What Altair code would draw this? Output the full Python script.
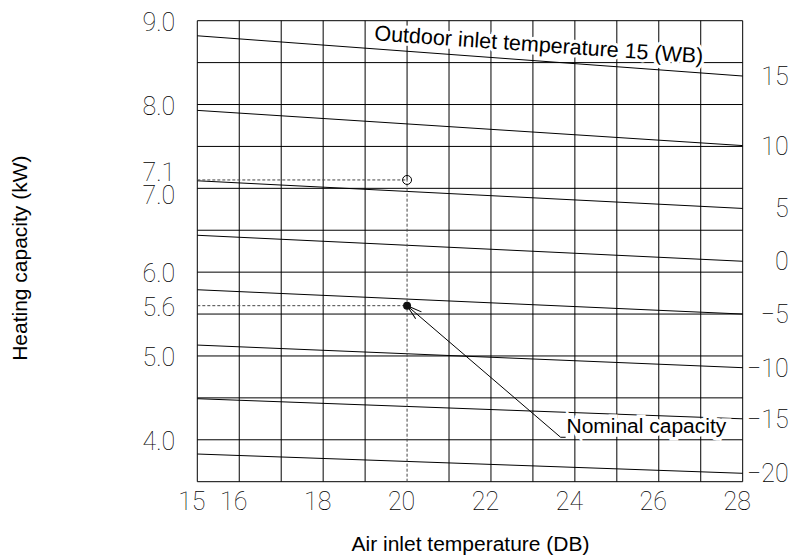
import altair as alt
import pandas as pd

# ---- data ----
outdoor_temps = [15, 10, 5, 0, -5, -10, -15, -20]          # outdoor inlet temp (WB)
cap_at_15 = [8.82, 7.93, 7.09, 6.44, 5.79, 5.13, 4.49, 3.83]  # kW at air inlet 15 (DB)
cap_at_28 = [8.34, 7.51, 6.76, 6.13, 5.50, 4.86, 4.25, 3.60]  # kW at air inlet 28 (DB)
x_ends = [15, 28]
x_tick_labels = [15, 16, 18, 20, 22, 24, 26, 28]
grid_x = [15, 16, 17, 18, 19, 21, 22, 23, 24, 25, 26, 27, 28]
grid_y = [3.5, 4.0, 4.5, 5.0, 5.5, 6.0, 6.5, 7.0, 7.5, 8.0, 8.5, 9.0]
left_labels = [9.0, 8.0, 6.0, 5.6, 5.0, 4.0]
rated_x = 20
rated_cap = 7.1
nominal_cap = 5.6
label_70 = 7.0
callout_x = [20, 23.66, 23.78]
callout_y = [5.6, 4.03, 4.03]
outdoor_title_pos = (23.14, 8.70)
nominal_text_pos = (23.8, 4.15)
y_min, y_max = 3.5, 9.0

NUM_FONT = "Roboto"
NUM_WEIGHT = 100
NUM_COLOR = "#000"
TXT_FONT = "Liberation Sans"

xs = alt.Scale(domain=[x_ends[0], x_ends[1]], nice=False, zero=False)
ys = alt.Scale(domain=[y_min, y_max], nice=False, zero=False)

x_axis = alt.Axis(
    values=x_tick_labels, title="Air inlet temperature (DB)", grid=False, ticks=False,
    domain=False, labelFont=NUM_FONT, labelFontWeight=NUM_WEIGHT, labelFontSize=25,
    labelColor=NUM_COLOR, labelPadding=8, labelOffset=-6, labelFlush=False,
    labelOverlap=False, titleFont=TXT_FONT, titleFontSize=21, titleFontWeight="normal",
    titleColor="black", titleY=63, titleBaseline="middle")
y_axis = alt.Axis(
    labels=False, ticks=False, domain=False, grid=False,
    title="Heating capacity (kW)", titleFont=TXT_FONT, titleFontSize=21,
    titleFontWeight="normal", titleColor="black", titleX=-177, titleY=237,
    titleBaseline="middle", titleAngle=270)

def X(f="x"):
    return alt.X(f"{f}:Q", scale=xs, axis=x_axis)

def Y(f="y"):
    return alt.Y(f"{f}:Q", scale=ys, axis=y_axis)

# grid
vgrid = alt.Chart(pd.DataFrame({"x": grid_x})).mark_rule(color="black", strokeWidth=1).encode(x=X())
hgrid = alt.Chart(pd.DataFrame({"y": grid_y})).mark_rule(color="black", strokeWidth=1).encode(y=Y())
grid20 = alt.Chart(pd.DataFrame({"x": [rated_x], "y": [rated_cap], "y2": [y_max]})).mark_rule(
    color="black", strokeWidth=1).encode(x=X(), y=Y(), y2="y2:Q")

# capacity lines
rows = []
for t, a, b in zip(outdoor_temps, cap_at_15, cap_at_28):
    rows.append({"t": t, "x": x_ends[0], "y": a})
    rows.append({"t": t, "x": x_ends[1], "y": b})
lines = alt.Chart(pd.DataFrame(rows)).mark_line(color="black", strokeWidth=1).encode(
    x=X(), y=Y(), detail="t:N")

# dashed guides
dash_h = alt.Chart(pd.DataFrame({"x": [x_ends[0], x_ends[0]], "x2": [rated_x, rated_x],
                                 "y": [rated_cap, nominal_cap]})).mark_rule(
    color="#444", strokeWidth=1, strokeDash=[3, 2]).encode(x=X(), x2="x2:Q", y=Y())
dash_v = alt.Chart(pd.DataFrame({"x": [rated_x], "y": [y_min], "y2": [rated_cap]})).mark_rule(
    color="#444", strokeWidth=1, strokeDash=[3, 2]).encode(x=X(), y=Y(), y2="y2:Q")

# left value labels
lab_style = dict(font=NUM_FONT, fontWeight=NUM_WEIGHT, fontSize=25, color=NUM_COLOR, baseline="middle")
left_df = pd.DataFrame({"x": [x_ends[0]] * len(left_labels), "y": left_labels,
                        "t": [f"{v:.1f}" for v in left_labels]})
left_txt = alt.Chart(left_df).mark_text(align="right", dx=-22, dy=2, **lab_style).encode(
    x=X(), y=Y(), text="t:N")
lab71 = alt.Chart(pd.DataFrame({"x": [x_ends[0]], "y": [rated_cap], "t": [f"{rated_cap:.1f}"]})).mark_text(
    align="right", dx=-22, dy=-7, **lab_style).encode(x=X(), y=Y(), text="t:N")
lab70 = alt.Chart(pd.DataFrame({"x": [x_ends[0]], "y": [label_70], "t": [f"{label_70:.1f}"]})).mark_text(
    align="right", dx=-22, dy=8, **lab_style).encode(x=X(), y=Y(), text="t:N")

# right outdoor temperature labels
right_df = pd.DataFrame({"x": [x_ends[1]] * len(outdoor_temps), "y": cap_at_28,
                         "t": [str(t).replace("-", "\u2212") for t in outdoor_temps]})
right_txt = alt.Chart(right_df).mark_text(align="right", dx=46, dy=1, **lab_style).encode(
    x=X(), y=Y(), text="t:N")

# annotations
ann_df = pd.DataFrame({"x": [outdoor_title_pos[0]], "y": [outdoor_title_pos[1]],
                       "t": ["Outdoor inlet temperature 15 (WB)"]})
ann_halo = alt.Chart(ann_df).mark_text(font=TXT_FONT, fontSize=21.5, angle=4, color="white",
                                       stroke="white", strokeWidth=6, baseline="middle").encode(
    x=X(), y=Y(), text="t:N")
ann = alt.Chart(ann_df).mark_text(font=TXT_FONT, fontSize=21.5, angle=4, color="black",
                                  baseline="middle").encode(x=X(), y=Y(), text="t:N")

nom_df = pd.DataFrame({"x": [nominal_text_pos[0]], "y": [nominal_text_pos[1]],
                       "t": ["Nominal capacity"]})
nom_halo = alt.Chart(nom_df).mark_text(font=TXT_FONT, fontSize=21, align="left", color="white",
                                       stroke="white", strokeWidth=7, baseline="middle").encode(
    x=X(), y=Y(), text="t:N")
nom = alt.Chart(nom_df).mark_text(font=TXT_FONT, fontSize=21, align="left", color="black",
                                  baseline="middle").encode(x=X(), y=Y(), text="t:N")

callout = alt.Chart(pd.DataFrame({"x": callout_x, "y": callout_y, "o": [0, 1, 2]})).mark_line(
    color="black", strokeWidth=1).encode(x=X(), y=Y(), order="o:Q")
arrow = alt.Chart(pd.DataFrame({"x": [rated_x], "y": [nominal_cap]})).mark_point(
    shape="M -1 -0.3 L 0 0 L -1 0.3", filled=False, color="black", strokeWidth=1,
    size=900, angle=220, opacity=1).encode(x=X(), y=Y())

rated_pt = alt.Chart(pd.DataFrame({"x": [rated_x], "y": [rated_cap]})).mark_point(
    shape="circle", filled=False, color="black", strokeWidth=1, size=80, opacity=1).encode(x=X(), y=Y())
nom_pt = alt.Chart(pd.DataFrame({"x": [rated_x], "y": [nominal_cap]})).mark_point(
    shape="circle", filled=True, color="#111", size=64, opacity=1).encode(x=X(), y=Y())

chart = alt.layer(
    vgrid, hgrid, grid20, lines, dash_h, dash_v,
    ann_halo, ann, nom_halo, nom, callout, arrow, rated_pt, nom_pt,
    left_txt, lab71, lab70, right_txt,
).properties(
    width=545.4, height=461,
    padding={"left": 189.3, "top": 12.7, "right": 47, "bottom": 75},
    autosize=alt.AutoSizeParams(type="none"),
    background="white",
).configure_view(stroke="transparent")

chart.save("out.html", embed_options={"renderer": "svg", "actions": False})
